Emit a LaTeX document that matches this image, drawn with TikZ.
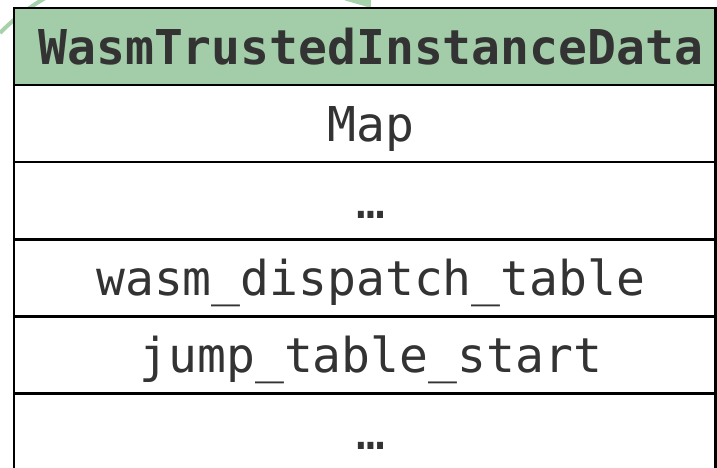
\documentclass[tikz,border=0pt]{standalone}
\usepackage{fontspec}
\setmonofont{DejaVu Sans Mono}
\usetikzlibrary{arrows.meta}
\definecolor{hdrgreen}{HTML}{A2CDA8}
\definecolor{arrgreen}{HTML}{A5D2AB}
\definecolor{txt}{HTML}{333333}
\tikzset{
  cell/.style={draw=black, line width=2.5pt, fill=white, minimum width=701.5pt,
    minimum height=77.1pt, inner sep=0pt, anchor=north west, outer sep=0pt},
  hdr/.style={cell, fill=hdrgreen},
  lbl/.style={text=txt, font=\ttfamily\fontsize{48}{56}\selectfont, inner sep=0pt, anchor=base},
  hlbl/.style={lbl, font=\ttfamily\bfseries\fontsize{48}{56}\selectfont},
  link/.style={draw=arrgreen, line width=4pt, -{Triangle[length=22pt,width=32pt]}}
}
\begin{document}
\begin{tikzpicture}[x=1pt,y=-1pt]
\useasboundingbox (0,0) rectangle (717,467);
\clip (0,0) rectangle (717,467);
\coordinate (src) at (0,33);
\coordinate (dst) at (371,8);
\draw[link] (src) .. controls (100,-70) and (320,-60) .. (dst);
\node[hdr] (h) at (14,8) {};
\node[cell] (r1) at (14,85.1) {};
\node[cell] (r2) at (14,162.2) {};
\node[cell] (r3) at (14,239.3) {};
\node[cell] (r4) at (14,316.4) {};
\node[cell] (r5) at (14,393.5) {};
\node[hlbl] (th) at ([xshift=6pt,yshift=-17.5pt]h.center) {WasmTrustedInstanceData};
\node[lbl] (t1) at ([xshift=6pt,yshift=-17.5pt]r1.center) {Map};
\node[lbl] (t2) at ([xshift=6pt,yshift=-17.5pt]r2.center) {…};
\node[lbl] (t3) at ([xshift=6pt,yshift=-17.5pt]r3.center) {wasm\_dispatch\_table};
\node[lbl] (t4) at ([xshift=6pt,yshift=-17.5pt]r4.center) {jump\_table\_start};
\node[lbl] (t5) at ([xshift=6pt,yshift=-17.5pt]r5.center) {…};
\end{tikzpicture}
\end{document}
